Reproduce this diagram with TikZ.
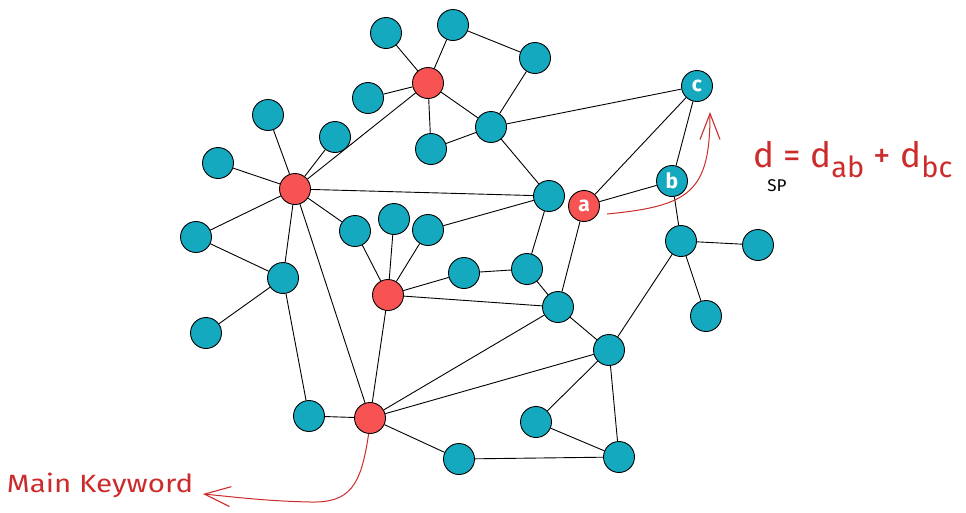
\documentclass[tikz,border=0pt]{standalone}
\usepackage{fontspec}
\setmainfont{Fira Sans}
\usetikzlibrary{arrows.meta}
\definecolor{termteal}{HTML}{15A9BF}
\definecolor{keyred}{HTML}{F75353}
\definecolor{inkred}{HTML}{CC2B2B}
\tikzset{
  term/.style={circle,draw=black,line width=0.9pt,fill=termteal,minimum size=31pt,inner sep=0pt,
    text=white,font=\bfseries\fontsize{21}{21}\selectfont},
  keyterm/.style={term,fill=keyred},
  link/.style={line width=0.9pt},
  note/.style={inkred,line width=1pt,-{Straight Barb[length=26pt,width=20pt,line width=1.1pt]}}
}
\begin{document}
\begin{tikzpicture}[x=1pt,y=-1pt]
\useasboundingbox (0,0) rectangle (966,512);

\node[term] (t1) at (386,33) {};
\node[term] (t2) at (453,25) {};
\node[term] (t3) at (535,58) {};
\node[keyterm] (k1) at (428,83) {};
\node[term] (t4) at (368,98) {};
\node[term] (t5) at (491,127) {};
\node[term] (t6) at (431,149) {};
\node[term] (c) at (697,86) {c};
\node[term] (t7) at (268,115) {};
\node[term] (t8) at (335,137) {};
\node[term] (t9) at (218,163) {};
\node[keyterm] (k2) at (295,189) {};
\node[term] (t10) at (549,196) {};
\node[keyterm] (a) at (584,206) {a};
\node[term] (b) at (672,181) {b};
\node[term] (t11) at (196,237) {};
\node[term] (t12) at (355,231) {};
\node[term] (t13) at (394,219) {};
\node[term] (t14) at (428,230) {};
\node[term] (t15) at (283,278) {};
\node[keyterm] (k3) at (388,295) {};
\node[term] (t16) at (464,273) {};
\node[term] (t17) at (527,269) {};
\node[term] (t18) at (558,307) {};
\node[term] (t19) at (681,241) {};
\node[term] (t20) at (758,245) {};
\node[term] (t21) at (206,333) {};
\node[term] (t22) at (706,316) {};
\node[term] (t23) at (609,350) {};
\node[term] (t24) at (309,416) {};
\node[keyterm] (k4) at (370,418) {};
\node[term] (t25) at (536,422) {};
\node[term] (t26) at (459,459) {};
\node[term] (t27) at (619,457) {};

\draw[link] (t1) -- (k1) (t2) -- (k1) (t2) -- (t3) (t3) -- (t5)
  (k1) -- (t4) (k1) -- (t6) (k1) -- (t5) (k1) -- (k2)
  (t5) -- (t6) (t5) -- (c) (t5) -- (t10);
\draw[link] (k2) -- (t7) (k2) -- (t8) (k2) -- (t9) (k2) -- (t11) (k2) -- (t10)
  (k2) -- (t12) (k2) -- (t15) (k2) -- (k4)
  (t11) -- (t15) (t15) -- (t21) (t15) -- (t24) (t24) -- (k4);
\draw[link] (t12) -- (k3) (t13) -- (k3) (t14) -- (k3) (t14) -- (t10)
  (k3) -- (t16) (t16) -- (t17) (t17) -- (t10) (t17) -- (t18)
  (k3) -- (t18) (k3) -- (k4);
\draw[link] (a) -- (c) (a) -- (b) (a) -- (t18) (b) -- (c) (b) -- (t19)
  (t19) -- (t20) (t19) -- (t22) (t19) -- (t23) (t18) -- (t23)
  (t23) -- (k4) (t18) -- (k4) (k4) -- (t26) (t26) -- (t27)
  (t23) -- (t27) (t23) -- (t25) (t25) -- (t27);

\coordinate (dstart) at (607,214);
\coordinate (dtip) at (710,112);
\coordinate (kwtip) at (203,494);
\draw[note] (dstart) .. controls (690,206) and (710,192) .. (dtip);
\draw[note] (k4.265) .. controls (361,486) and (350,503) .. (310,502)
  .. controls (265,501) and (235,497) .. (kwtip);

\node[inkred,font=\fontsize{25}{25}\selectfont] (kwlabel) at (100,485)
  {\scalebox{1.18}[1]{Main Keyword}};
\node[inkred,anchor=base west,font=\fontsize{35}{35}\selectfont] (spformula) at (750,167)
  {d = d\raisebox{-10pt}{\fontsize{29}{29}\selectfont ab} + d\raisebox{-10pt}{\fontsize{29}{29}\selectfont bc}};
\node[font=\fontsize{17}{17}\selectfont] (splabel) at (777,186) {SP};
\end{tikzpicture}
\end{document}
